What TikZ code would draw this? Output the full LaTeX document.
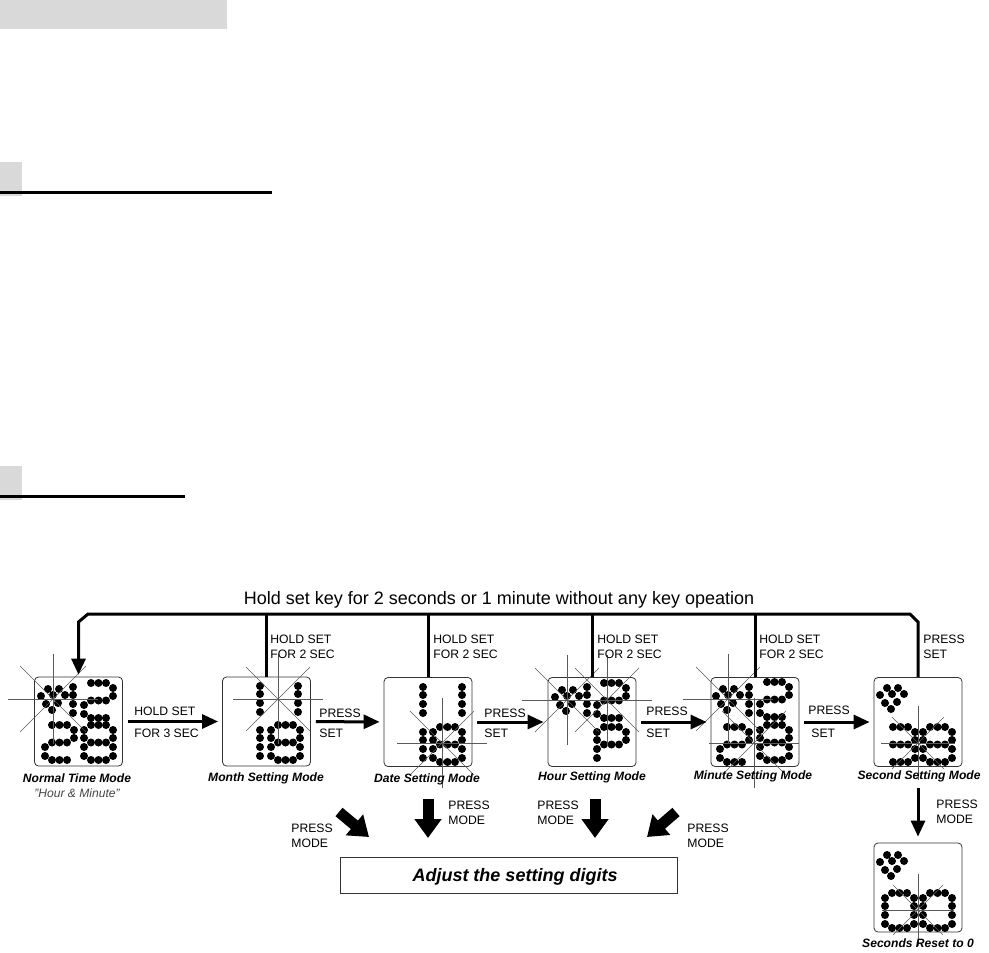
\documentclass[tikz,border=0pt]{standalone}
\usepackage{fontspec}
\setmainfont{Liberation Sans}
\usetikzlibrary{arrows.meta,positioning}
\definecolor{bandGray}{HTML}{D9D9D9}
\definecolor{flashGray}{HTML}{5A5A5A}
\definecolor{boxLine}{HTML}{333333}
\definecolor{softInk}{HTML}{444444}
\newcommand{\segdots}[1]{\foreach \dx/\dy in {#1}{\fill (\digx+\dx,\digy+\dy) circle (4);}}
\newcommand{\dotsega}{\segdots{7/0,14.5/0,22/0}}
\newcommand{\dotsegb}{\segdots{29/5,29/13}}
\newcommand{\dotsegc}{\segdots{29/22,29/31}}
\newcommand{\dotsegd}{\segdots{7/35,14.5/35,22/35}}
\newcommand{\dotsege}{\segdots{0/22,0/31}}
\newcommand{\dotsegf}{\segdots{0/5,0/13}}
\newcommand{\dotsegg}{\segdots{7/17.5,14.5/17.5,22/17.5}}
\newcommand{\dotdigit}[3]{\def\digx{#1}\def\digy{#2}\foreach \s in {#3}{\csname dotseg\s\endcsname}}
\newcommand{\heartdots}[2]{\foreach \dx/\dy in {-5/-10,6/-10,-12/-3,0/-4,12/-4,-7/5,5/4,-1/11}{\fill (#1+\dx,#2+\dy) circle (4);}}
\newcommand{\flashlines}[4]{
  \draw[flashline] (#1-#3,#2) -- (#1+#3,#2);
  \draw[flashline] (#1,#2-#3) -- (#1,#2+#3);
  \draw[flashline] (#1-#4,#2-#4) -- (#1+#4,#2+#4);
  \draw[flashline] (#1-#4,#2+#4) -- (#1+#4,#2-#4);
}
\begin{document}
\begin{tikzpicture}[
      x=0.5pt, y=-0.5pt,
      dispbox/.style={rectangle, rounded corners=2pt, draw=boxLine, line width=0.4pt, inner sep=0pt, minimum width=44pt, minimum height=44.5pt},
      keylabel/.style={anchor=west, align=left, inner sep=0pt, font=\fontsize{6.1}{7.4}\selectfont},
      modelabel/.style={inner sep=0pt, font=\fontsize{6.05}{7}\selectfont\bfseries\itshape},
      flashline/.style={draw=flashGray, line width=0.28pt},
      loopline/.style={draw=black, line width=1.5pt},
      flowarrow/.style={draw=black, line width=1.5pt, -{Triangle[length=8pt, width=7pt]}, shorten >=2pt, shorten <=2.5pt},
      bigarrow/.style={draw=black, line width=5.5pt, -{Triangle[length=9.5pt, width=13pt]}}
    ]
      \useasboundingbox (0,0) rectangle (989,952);
      \fill[bandGray] (0,0) rectangle (227,29);
      \fill[bandGray] (0,162) rectangle (22,196);
      \fill[black] (0,191) rectangle (272,194);
      \fill[bandGray] (0,466) rectangle (22,500);
      \fill[black] (0,495) rectangle (185,497.5);

      \node[dispbox] (normal) at (78.5,721.5) {};
      \node[dispbox] (month) at (266.5,721.5) {};
      \node[dispbox] (date) at (428,722) {};
      \node[dispbox] (hour) at (592,722) {};
      \node[dispbox] (minute) at (755,722) {};
      \node[dispbox] (second) at (918,722) {};
      \node[dispbox] (reset) at (918,887.5) {};

      \heartdots{53}{699}
      \dotdigit{44}{682}{b,c}
      \dotdigit{84}{683}{a,b,g,e,d}
      \dotdigit{45}{725}{a,b,g,e,d}
      \dotdigit{84}{725}{a,b,c,d,e,f,g}
      \dotdigit{231}{681}{b,c}
      \dotdigit{269}{681}{b,c}
      \dotdigit{231}{725}{b,c}
      \dotdigit{271}{725}{a,b,c,d,e,f,g}
      \dotdigit{394}{682}{b,c}
      \dotdigit{433}{682}{b,c}
      \dotdigit{394}{727}{b,c}
      \dotdigit{433}{727}{a,b,c,d,e,f,g}
      \heartdots{567}{700}
      \dotdigit{558}{682}{b,c}
      \dotdigit{597}{683}{a,b,g,e,d}
      \dotdigit{597}{727}{a,b,g,e,f}
      \heartdots{728}{699}
      \dotdigit{720}{682}{b,c}
      \dotdigit{760}{682}{a,b,g,e,d}
      \dotdigit{720}{727}{a,b,g,e,d}
      \dotdigit{760}{725}{a,b,c,d,e,f,g}
      \heartdots{892}{698}
      \dotdigit{886}{727}{a,b,g,c,d}
      \dotdigit{923}{727}{a,b,c,d,e,f,g}
      \heartdots{892}{865}
      \dotdigit{885}{893}{a,b,c,d,e,f}
      \dotdigit{923}{893}{a,b,c,d,e,f}

      \flashlines{53}{699}{45}{33}
      \flashlines{278}{699}{45}{32}
      \flashlines{442}{743}{45}{32}
      \flashlines{567}{700}{45}{32}
      \flashlines{607}{700}{45}{32}
      \flashlines{728}{699}{45}{32}
      \flashlines{754}{743}{45}{32}
      \flashlines{918}{743}{37}{26}
      \flashlines{918}{910}{36}{25}

      \coordinate (loopR) at (910,614);
      \coordinate (loopL) at (88,614);
      \draw[loopline, -{Triangle[length=8pt, width=7pt]}, shorten >=1pt] (second.north) -- (second.north |- 0,622) -- (loopR) -- (loopL) -- (normal.north |- 0,622) -- (normal.north);
      \draw[loopline] (month.north) -- (month.north |- loopL);
      \draw[loopline] (date.north) -- (date.north |- loopL);
      \draw[loopline] (hour.north) -- (hour.north |- loopL);
      \draw[loopline] (minute.north) -- (minute.north |- loopL);

      \draw[flowarrow] (normal) -- (month);
      \draw[flowarrow] (month) -- (date);
      \draw[flowarrow] (date) -- (hour);
      \draw[flowarrow] (hour) -- (minute);
      \draw[flowarrow] (minute) -- (second);
      \draw[flowarrow, shorten <=10.5pt, shorten >=3pt] (second) -- (reset);

      \node[inner sep=0pt, font=\fontsize{9}{10}\selectfont] (looptitle) at (499,599.5) {Hold set key for 2 seconds or 1 minute without any key opeation};
      \node[keylabel] (monthkey) at (270,646.5) {HOLD SET\\FOR 2 SEC};
      \node[keylabel] (datekey) at (433,646.5) {HOLD SET\\FOR 2 SEC};
      \node[keylabel] (hourkey) at (597,646.5) {HOLD SET\\FOR 2 SEC};
      \node[keylabel] (minutekey) at (759,646.5) {HOLD SET\\FOR 2 SEC};
      \node[keylabel] (secondkey) at (923,646.5) {PRESS\\SET};

      \node[keylabel] (holdA) at (134,711) {HOLD SET};
      \node[keylabel] (holdB) at (134,733) {FOR 3 SEC};
      \node[keylabel] (pressA) at (319,713) {PRESS};
      \node[keylabel] (setA) at (319,733) {SET};
      \node[keylabel] (pressB) at (484,713) {PRESS};
      \node[keylabel] (setB) at (484,733) {SET};
      \node[keylabel] (pressC) at (646,711) {PRESS};
      \node[keylabel] (setC) at (646,733) {SET};
      \node[keylabel] (pressD) at (808,710) {PRESS};
      \node[keylabel] (setD) at (811,733) {SET};

      \node[modelabel] (normalcap) at (77,778) {Normal Time Mode};
      \node[inner sep=0pt, text=softInk, font=\fontsize{6.05}{7}\selectfont\itshape] (normalsub) at (77,793) {"Hour \& Minute"};
      \node[modelabel] (monthcap) at (266,778) {Month Setting Mode};
      \node[modelabel] (datecap) at (427,779) {Date Setting Mode};
      \node[modelabel] (hourcap) at (592,777) {Hour Setting Mode};
      \node[modelabel] (minutecap) at (753,776) {Minute Setting Mode};
      \node[modelabel] (secondcap) at (919,776) {Second Setting Mode};
      \node[modelabel] (resetcap) at (918,943) {Seconds Reset to 0};

      \node[rectangle, draw=boxLine, line width=0.4pt, inner sep=0pt, minimum width=168.5pt, minimum height=18pt] (adjust) at (508.5,875) {};
      \node[inner sep=0pt, font=\fontsize{9}{10}\selectfont\bfseries\itshape] (adjustcap) at (515,877) {Adjust the setting digits};

      \coordinate (tipA) at (369,837);
      \coordinate (tailA) at (339,812);
      \coordinate (tipB) at (428,838);
      \coordinate (tailB) at (428,799);
      \coordinate (tipC) at (595,838);
      \coordinate (tailC) at (595,799);
      \coordinate (tipD) at (647,837);
      \coordinate (tailD) at (676,812);
      \draw[bigarrow] (tailA) -- (tipA);
      \draw[bigarrow] (tailB) -- (tipB);
      \draw[bigarrow] (tailC) -- (tipC);
      \draw[bigarrow] (tailD) -- (tipD);

      \node[keylabel] (modeA) at (291,836) {PRESS\\MODE};
      \node[keylabel] (modeB) at (448,813) {PRESS\\MODE};
      \node[keylabel] (modeC) at (537,813) {PRESS\\MODE};
      \node[keylabel] (modeD) at (687,836) {PRESS\\MODE};
      \node[keylabel] (modeE) at (936,812) {PRESS\\MODE};
    \end{tikzpicture}
\end{document}
